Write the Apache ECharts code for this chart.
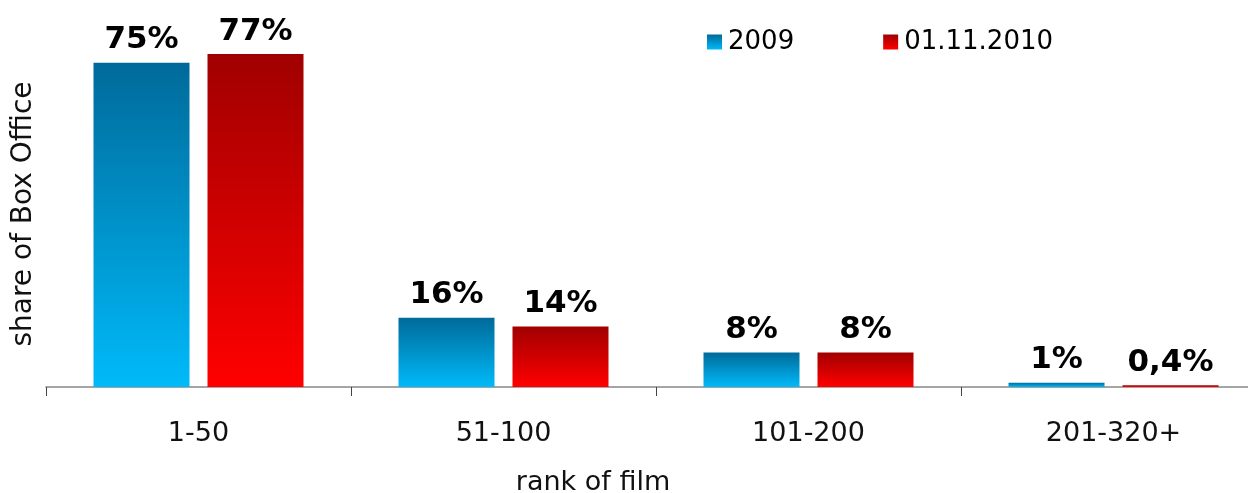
<!DOCTYPE html>
<html>
<head>
<meta charset="utf-8">
<script src="https://cdn.jsdelivr.net/npm/echarts@6/dist/echarts.min.js"></script>
<style>html,body{margin:0;padding:0;background:#fff;}#c{width:1248px;height:493px;}</style>
</head>
<body>
<div id="c"></div>
<script>
var categories = ['1-50', '51-100', '101-200', '201-320+'];
var seriesNames = ['2009', '01.11.2010'];
var values2009 = [75, 16, 8, 1];
var values2010 = [77, 14, 8, 0.4];
var labels2009 = ['75%', '16%', '8%', '1%'];
var labels2010 = ['77%', '14%', '8%', '0,4%'];

var FONT = '"DejaVu Sans", Verdana, sans-serif';
function grad(top, bottom) {
  return new echarts.graphic.LinearGradient(0, 0, 0, 1, [
    {offset: 0, color: top}, {offset: 1, color: bottom}
  ]);
}
function mkData(vals, labs) {
  return vals.map(function (v, i) { return {value: v, lbl: labs[i]}; });
}
var labelStyle = {
  show: true, position: 'top', distance: 7,
  fontFamily: FONT, fontSize: 31, fontWeight: 'bold', color: '#000',
  formatter: function (p) { return p.data.lbl; }
};
var chart = echarts.init(document.getElementById('c'), null, {renderer: 'canvas'});
chart.setOption({
  animation: false,
  backgroundColor: '#fff',
  textStyle: {fontFamily: FONT},
  legend: {
    left: 707, top: 29, padding: 0,
    itemWidth: 15, itemHeight: 15, itemGap: 89,
    icon: 'rect',
    textStyle: {fontFamily: FONT, fontSize: 26, color: '#000', padding: [0, 0, 0, 1]},
    data: seriesNames
  },
  grid: {left: 46, top: 41, right: -18, bottom: 106, containLabel: false, outerBoundsMode: 'none'},
  xAxis: {
    type: 'category', data: categories,
    axisLine: {lineStyle: {color: '#888', width: 1.5}},
    axisTick: {show: true, length: 9, lineStyle: {color: '#444'}},
    axisLabel: {fontFamily: FONT, fontSize: 27, color: '#111', margin: 33},
    name: 'rank of film', nameLocation: 'middle', nameGap: 82,
    nameTextStyle: {fontFamily: FONT, fontSize: 27, color: '#111', padding: [0, 126, 0, 0]}
  },
  yAxis: {
    type: 'value', min: 0, max: 80,
    axisLine: {show: false}, axisTick: {show: false},
    axisLabel: {show: false}, splitLine: {show: false},
    name: 'share of Box Office', nameLocation: 'middle', nameGap: 8,
    nameTextStyle: {fontFamily: FONT, fontSize: 28, color: '#111'}
  },
  series: [
    {
      name: seriesNames[0], type: 'bar', barWidth: 96, barGap: '18.75%',
      data: mkData(values2009, labels2009),
      itemStyle: {color: grad('#006a9a', '#00baf9')},
      label: labelStyle
    },
    {
      name: seriesNames[1], type: 'bar', barWidth: 96, barGap: '18.75%',
      data: mkData(values2010, labels2010),
      itemStyle: {color: grad('#a00000', '#ff0000')},
      label: labelStyle
    }
  ]
});
</script>
</body>
</html>
